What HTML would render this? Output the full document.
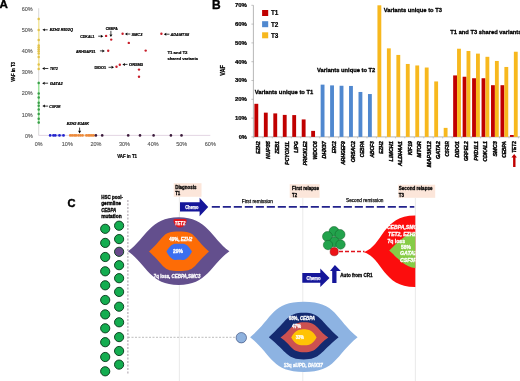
<!DOCTYPE html>
<html><head><meta charset="utf-8"><style>
html,body{margin:0;padding:0;background:#fff;}
svg{display:block;font-family:"Liberation Sans", sans-serif;filter:blur(0.4px);}
</style></head><body>
<svg width="520" height="381" viewBox="0 0 520 381">
<defs><clipPath id="c3"><rect x="0" y="0" width="415.4" height="381"/></clipPath></defs>
<rect width="520" height="381" fill="#fff"/>
<text x="-0.4" y="8.4" font-size="11.6" font-weight="bold" stroke="#000" stroke-width="0.35">A</text>
<line x1="38.7" y1="8.2" x2="38.7" y2="135.4" stroke="#c8c8c8" stroke-width="0.7"/>
<line x1="38.7" y1="135.4" x2="210.3" y2="135.4" stroke="#dccbdc" stroke-width="0.8"/>
<text x="24.9" y="137.8" font-size="5.6" fill="#555" stroke="#555" stroke-width="0.12" textLength="7.8" lengthAdjust="spacingAndGlyphs">0%</text>
<text x="34.8" y="145.8" font-size="5.6" fill="#555" stroke="#555" stroke-width="0.12" textLength="7.8" lengthAdjust="spacingAndGlyphs">0%</text>
<text x="21.7" y="116.6" font-size="5.6" fill="#555" stroke="#555" stroke-width="0.12" textLength="11.0" lengthAdjust="spacingAndGlyphs">10%</text>
<text x="61.8" y="145.8" font-size="5.6" fill="#555" stroke="#555" stroke-width="0.12" textLength="11.0" lengthAdjust="spacingAndGlyphs">10%</text>
<text x="21.7" y="95.4" font-size="5.6" fill="#555" stroke="#555" stroke-width="0.12" textLength="11.0" lengthAdjust="spacingAndGlyphs">20%</text>
<text x="90.4" y="145.8" font-size="5.6" fill="#555" stroke="#555" stroke-width="0.12" textLength="11.0" lengthAdjust="spacingAndGlyphs">20%</text>
<text x="21.7" y="74.2" font-size="5.6" fill="#555" stroke="#555" stroke-width="0.12" textLength="11.0" lengthAdjust="spacingAndGlyphs">30%</text>
<text x="119.0" y="145.8" font-size="5.6" fill="#555" stroke="#555" stroke-width="0.12" textLength="11.0" lengthAdjust="spacingAndGlyphs">30%</text>
<text x="21.7" y="53.0" font-size="5.6" fill="#555" stroke="#555" stroke-width="0.12" textLength="11.0" lengthAdjust="spacingAndGlyphs">40%</text>
<text x="147.6" y="145.8" font-size="5.6" fill="#555" stroke="#555" stroke-width="0.12" textLength="11.0" lengthAdjust="spacingAndGlyphs">40%</text>
<text x="21.7" y="31.8" font-size="5.6" fill="#555" stroke="#555" stroke-width="0.12" textLength="11.0" lengthAdjust="spacingAndGlyphs">50%</text>
<text x="176.2" y="145.8" font-size="5.6" fill="#555" stroke="#555" stroke-width="0.12" textLength="11.0" lengthAdjust="spacingAndGlyphs">50%</text>
<text x="21.7" y="10.6" font-size="5.6" fill="#555" stroke="#555" stroke-width="0.12" textLength="11.0" lengthAdjust="spacingAndGlyphs">60%</text>
<text x="204.8" y="145.8" font-size="5.6" fill="#555" stroke="#555" stroke-width="0.12" textLength="11.0" lengthAdjust="spacingAndGlyphs">60%</text>
<text x="117.3" y="157.9" font-size="4.6" font-weight="bold" fill="#000" stroke="#000" stroke-width="0.22" textLength="19.7" lengthAdjust="spacingAndGlyphs">VAF in T1</text>
<g transform="translate(14.5,71.9) rotate(-90)"><text x="-9.9" y="0" font-size="4.6" font-weight="bold" stroke="#000" stroke-width="0.22" textLength="19.8" lengthAdjust="spacingAndGlyphs">VAF in T3</text></g>
<line x1="38.7" y1="17.5" x2="38.7" y2="70" stroke="#f3e7a0" stroke-width="1.5"/>
<line x1="38.7" y1="81.5" x2="38.7" y2="124" stroke="#9ae49a" stroke-width="1.5"/>
<line x1="49" y1="135.4" x2="64.8" y2="135.4" stroke="#9ea0f0" stroke-width="1.6"/>
<line x1="69" y1="135.4" x2="95" y2="135.4" stroke="#f6c89a" stroke-width="1.6"/>
<circle cx="38.7" cy="18.9" r="1.25" fill="#e2c24a"/>
<circle cx="38.7" cy="30.1" r="1.25" fill="#e2c24a"/>
<circle cx="38.7" cy="39.9" r="1.25" fill="#e2c24a"/>
<circle cx="38.7" cy="45.5" r="1.25" fill="#e2c24a"/>
<circle cx="38.7" cy="47.3" r="1.25" fill="#e2c24a"/>
<circle cx="38.7" cy="49.3" r="1.25" fill="#e2c24a"/>
<circle cx="38.7" cy="51.3" r="1.25" fill="#e2c24a"/>
<circle cx="38.7" cy="53.6" r="1.25" fill="#e2c24a"/>
<circle cx="38.7" cy="56.9" r="1.25" fill="#e2c24a"/>
<circle cx="38.7" cy="64.6" r="1.25" fill="#e2c24a"/>
<circle cx="38.7" cy="68.9" r="1.25" fill="#e2c24a"/>
<circle cx="38.7" cy="82.9" r="1.25" fill="#3a9e4a"/>
<circle cx="38.7" cy="93.5" r="1.25" fill="#3a9e4a"/>
<circle cx="38.7" cy="97.6" r="1.25" fill="#3a9e4a"/>
<circle cx="38.7" cy="102.7" r="1.25" fill="#3a9e4a"/>
<circle cx="38.7" cy="105.8" r="1.25" fill="#3a9e4a"/>
<circle cx="38.7" cy="109.5" r="1.25" fill="#3a9e4a"/>
<circle cx="38.7" cy="114.1" r="1.25" fill="#3a9e4a"/>
<circle cx="38.7" cy="118.7" r="1.25" fill="#3a9e4a"/>
<circle cx="38.7" cy="122.4" r="1.25" fill="#3a9e4a"/>
<circle cx="50.1" cy="135.4" r="1.3" fill="#2424cc"/>
<circle cx="53.5" cy="135.4" r="1.3" fill="#2424cc"/>
<circle cx="55.3" cy="135.4" r="1.3" fill="#2424cc"/>
<circle cx="59.5" cy="135.4" r="1.3" fill="#2424cc"/>
<circle cx="63.5" cy="135.4" r="1.3" fill="#2424cc"/>
<circle cx="70.3" cy="135.4" r="1.3" fill="#ec8a3c"/>
<circle cx="72.2" cy="135.4" r="1.3" fill="#ec8a3c"/>
<circle cx="74.3" cy="135.4" r="1.3" fill="#ec8a3c"/>
<circle cx="76.0" cy="135.4" r="1.3" fill="#ec8a3c"/>
<circle cx="78.4" cy="135.4" r="1.3" fill="#ec8a3c"/>
<circle cx="80.4" cy="135.4" r="1.3" fill="#ec8a3c"/>
<circle cx="82.5" cy="135.4" r="1.3" fill="#ec8a3c"/>
<circle cx="86.4" cy="135.4" r="1.3" fill="#ec8a3c"/>
<circle cx="88.3" cy="135.4" r="1.3" fill="#ec8a3c"/>
<circle cx="89.9" cy="135.4" r="1.3" fill="#ec8a3c"/>
<circle cx="91.8" cy="135.4" r="1.3" fill="#ec8a3c"/>
<circle cx="93.5" cy="135.4" r="1.3" fill="#ec8a3c"/>
<circle cx="95.9" cy="135.4" r="1.3" fill="#3c1c3c"/>
<circle cx="102.2" cy="135.4" r="1.3" fill="#3c1c3c"/>
<circle cx="128.2" cy="135.4" r="1.3" fill="#3c1c3c"/>
<circle cx="140.0" cy="135.4" r="1.3" fill="#3c1c3c"/>
<circle cx="153.6" cy="135.4" r="1.3" fill="#3c1c3c"/>
<circle cx="170.9" cy="135.4" r="1.3" fill="#3c1c3c"/>
<circle cx="181.5" cy="135.4" r="1.3" fill="#3c1c3c"/>
<circle cx="106.1" cy="35.9" r="1.2" fill="#c81e2a"/>
<circle cx="111.2" cy="39.6" r="1.2" fill="#c81e2a"/>
<circle cx="122.6" cy="33.8" r="1.2" fill="#c81e2a"/>
<circle cx="128.8" cy="42.9" r="1.2" fill="#c81e2a"/>
<circle cx="161.4" cy="33.8" r="1.2" fill="#c81e2a"/>
<circle cx="145.7" cy="50.6" r="1.2" fill="#c81e2a"/>
<circle cx="108.2" cy="50.7" r="1.2" fill="#c81e2a"/>
<circle cx="116.5" cy="66.7" r="1.2" fill="#c81e2a"/>
<circle cx="119.8" cy="64.8" r="1.2" fill="#c81e2a"/>
<circle cx="139.0" cy="69.6" r="1.2" fill="#c81e2a"/>
<circle cx="139.0" cy="76.8" r="1.2" fill="#c81e2a"/>
<line x1="47.7" y1="29.8" x2="44.9" y2="29.8" stroke="#000" stroke-width="0.75"/>
<path d="M42.4,29.8 L44.9,28.4 L44.9,31.2Z" fill="#000"/>
<text x="49.7" y="31.4" font-size="4.1" font-weight="bold" font-style="italic" fill="#000" stroke="#000" stroke-width="0.22" textLength="23.2" lengthAdjust="spacingAndGlyphs">EZH2 R502Q</text>
<line x1="48.3" y1="68.5" x2="44.7" y2="68.5" stroke="#000" stroke-width="0.75"/>
<path d="M42.2,68.5 L44.7,67.0 L44.7,70.0Z" fill="#000"/>
<text x="50.1" y="70.4" font-size="4.1" font-weight="bold" font-style="italic" fill="#000" stroke="#000" stroke-width="0.22" textLength="7.7" lengthAdjust="spacingAndGlyphs">TET2</text>
<line x1="48.1" y1="83.2" x2="44.7" y2="83.2" stroke="#000" stroke-width="0.75"/>
<path d="M42.2,83.2 L44.7,81.8 L44.7,84.7Z" fill="#000"/>
<text x="50.1" y="84.9" font-size="4.1" font-weight="bold" font-style="italic" fill="#000" stroke="#000" stroke-width="0.22" textLength="12.5" lengthAdjust="spacingAndGlyphs">GATA2</text>
<line x1="48.1" y1="106.1" x2="44.9" y2="106.1" stroke="#000" stroke-width="0.75"/>
<path d="M42.4,106.1 L44.9,104.6 L44.9,107.5Z" fill="#000"/>
<text x="49.3" y="107.9" font-size="4.1" font-weight="bold" font-style="italic" fill="#000" stroke="#000" stroke-width="0.22" textLength="11.1" lengthAdjust="spacingAndGlyphs">CSF3R</text>
<text x="66.8" y="124.5" font-size="4.1" font-weight="bold" font-style="italic" fill="#000" stroke="#000" stroke-width="0.22" textLength="22.2" lengthAdjust="spacingAndGlyphs">EZH2 E148K</text>
<line x1="79.6" y1="127.6" x2="79.6" y2="130.8" stroke="#000" stroke-width="0.75"/>
<path d="M79.6,133.4 L78.1,130.8 L81.1,130.8Z" fill="#000"/>
<text x="105.8" y="29.7" font-size="4.1" font-weight="bold" fill="#000" stroke="#000" stroke-width="0.22" textLength="11.9" lengthAdjust="spacingAndGlyphs">CEBPA</text>
<line x1="110.9" y1="30.8" x2="110.9" y2="34.5" stroke="#000" stroke-width="0.75"/>
<path d="M110.9,37.0 L109.5,34.5 L112.4,34.5Z" fill="#000"/>
<text x="80.2" y="37.9" font-size="4.1" font-weight="bold" fill="#000" stroke="#000" stroke-width="0.22" textLength="14.4" lengthAdjust="spacingAndGlyphs">CDKAL1</text>
<line x1="98.2" y1="36.2" x2="100.8" y2="36.2" stroke="#000" stroke-width="0.75"/>
<path d="M103.3,36.2 L100.8,37.7 L100.8,34.8Z" fill="#000"/>
<text x="76.0" y="52.8" font-size="4.1" font-weight="bold" fill="#000" stroke="#000" stroke-width="0.22" textLength="19.6" lengthAdjust="spacingAndGlyphs">ARHGAP21</text>
<line x1="99.9" y1="50.9" x2="102.3" y2="50.9" stroke="#000" stroke-width="0.75"/>
<path d="M104.8,50.9 L102.3,52.4 L102.3,49.4Z" fill="#000"/>
<text x="94.4" y="69.0" font-size="4.1" font-weight="bold" fill="#000" stroke="#000" stroke-width="0.22" textLength="11.7" lengthAdjust="spacingAndGlyphs">DIDO1</text>
<line x1="108.5" y1="67.3" x2="111.5" y2="67.3" stroke="#000" stroke-width="0.75"/>
<path d="M114.0,67.3 L111.5,68.8 L111.5,65.8Z" fill="#000"/>
<line x1="127.5" y1="64.4" x2="124.9" y2="64.4" stroke="#000" stroke-width="0.75"/>
<path d="M122.4,64.4 L124.9,63.0 L124.9,65.9Z" fill="#000"/>
<text x="129.0" y="66.1" font-size="4.1" font-weight="bold" fill="#000" stroke="#000" stroke-width="0.22" textLength="14.1" lengthAdjust="spacingAndGlyphs">OR5M3</text>
<line x1="130.3" y1="34.0" x2="127.4" y2="34.0" stroke="#000" stroke-width="0.75"/>
<path d="M124.9,34.0 L127.4,32.5 L127.4,35.5Z" fill="#000"/>
<text x="131.5" y="35.5" font-size="4.1" font-weight="bold" font-style="italic" fill="#000" stroke="#000" stroke-width="0.22" textLength="10.8" lengthAdjust="spacingAndGlyphs">SMC3</text>
<line x1="169.5" y1="34.2" x2="166.3" y2="34.2" stroke="#000" stroke-width="0.75"/>
<path d="M163.8,34.2 L166.3,32.8 L166.3,35.7Z" fill="#000"/>
<text x="170.6" y="36.0" font-size="4.1" font-weight="bold" font-style="italic" fill="#000" stroke="#000" stroke-width="0.22" textLength="18.5" lengthAdjust="spacingAndGlyphs">ADAMTS8</text>
<text x="167.4" y="53.7" font-size="4.4" font-weight="bold" fill="#000" stroke="#000" stroke-width="0.22" textLength="20.1" lengthAdjust="spacingAndGlyphs">T1 and T3</text>
<text x="167.4" y="59.5" font-size="4.4" font-weight="bold" fill="#000" stroke="#000" stroke-width="0.22" textLength="30.7" lengthAdjust="spacingAndGlyphs">shared variants</text>
<text x="212.0" y="8.7" font-size="12" font-weight="bold" stroke="#000" stroke-width="0.35">B</text>
<line x1="253.4" y1="5.3" x2="253.4" y2="136.9" stroke="#9a9a9a" stroke-width="0.7"/>
<line x1="253.4" y1="136.9" x2="520" y2="136.9" stroke="#9a9a9a" stroke-width="0.7"/>
<text x="238.7" y="138.8" font-size="5.3" font-weight="bold" fill="#000" stroke="#000" stroke-width="0.22" textLength="8.2" lengthAdjust="spacingAndGlyphs">0%</text>
<line x1="251.4" y1="136.9" x2="253.4" y2="136.9" stroke="#9a9a9a" stroke-width="0.6"/>
<text x="234.9" y="120.0" font-size="5.3" font-weight="bold" fill="#000" stroke="#000" stroke-width="0.22" textLength="12.0" lengthAdjust="spacingAndGlyphs">10%</text>
<line x1="251.4" y1="118.1" x2="253.4" y2="118.1" stroke="#9a9a9a" stroke-width="0.6"/>
<text x="234.9" y="101.2" font-size="5.3" font-weight="bold" fill="#000" stroke="#000" stroke-width="0.22" textLength="12.0" lengthAdjust="spacingAndGlyphs">20%</text>
<line x1="251.4" y1="99.3" x2="253.4" y2="99.3" stroke="#9a9a9a" stroke-width="0.6"/>
<text x="234.9" y="82.4" font-size="5.3" font-weight="bold" fill="#000" stroke="#000" stroke-width="0.22" textLength="12.0" lengthAdjust="spacingAndGlyphs">30%</text>
<line x1="251.4" y1="80.5" x2="253.4" y2="80.5" stroke="#9a9a9a" stroke-width="0.6"/>
<text x="234.9" y="63.6" font-size="5.3" font-weight="bold" fill="#000" stroke="#000" stroke-width="0.22" textLength="12.0" lengthAdjust="spacingAndGlyphs">40%</text>
<line x1="251.4" y1="61.7" x2="253.4" y2="61.7" stroke="#9a9a9a" stroke-width="0.6"/>
<text x="234.9" y="44.8" font-size="5.3" font-weight="bold" fill="#000" stroke="#000" stroke-width="0.22" textLength="12.0" lengthAdjust="spacingAndGlyphs">50%</text>
<line x1="251.4" y1="42.9" x2="253.4" y2="42.9" stroke="#9a9a9a" stroke-width="0.6"/>
<text x="234.9" y="26.0" font-size="5.3" font-weight="bold" fill="#000" stroke="#000" stroke-width="0.22" textLength="12.0" lengthAdjust="spacingAndGlyphs">60%</text>
<line x1="251.4" y1="24.1" x2="253.4" y2="24.1" stroke="#9a9a9a" stroke-width="0.6"/>
<text x="234.9" y="7.2" font-size="5.3" font-weight="bold" fill="#000" stroke="#000" stroke-width="0.22" textLength="12.0" lengthAdjust="spacingAndGlyphs">70%</text>
<line x1="251.4" y1="5.3" x2="253.4" y2="5.3" stroke="#9a9a9a" stroke-width="0.6"/>
<g transform="translate(224.9,70.5) rotate(-90)"><text x="-5.3" y="0" font-size="6.3" font-weight="bold" stroke="#000" stroke-width="0.25" textLength="10.6" lengthAdjust="spacingAndGlyphs">VAF</text></g>
<rect x="262.1" y="10.0" width="6.1" height="6" fill="#c00000"/>
<text x="270.9" y="15.3" font-size="6.3" font-weight="bold" fill="#000" stroke="#000" stroke-width="0.22" textLength="7.4" lengthAdjust="spacingAndGlyphs">T1</text>
<rect x="262.1" y="21.2" width="6.1" height="6" fill="#5088cf"/>
<text x="270.9" y="26.5" font-size="6.3" font-weight="bold" fill="#000" stroke="#000" stroke-width="0.22" textLength="7.4" lengthAdjust="spacingAndGlyphs">T2</text>
<rect x="262.1" y="32.3" width="6.1" height="6" fill="#f7b81e"/>
<text x="270.9" y="37.6" font-size="6.3" font-weight="bold" fill="#000" stroke="#000" stroke-width="0.22" textLength="7.4" lengthAdjust="spacingAndGlyphs">T3</text>
<rect x="254.40" y="103.81" width="3.85" height="33.09" fill="#c00000"/>
<g transform="translate(260.1,141.2) rotate(-90)"><text x="-12.5" y="0" font-size="5.0" font-weight="bold" font-style="italic" stroke="#000" stroke-width="0.38" textLength="12.5" lengthAdjust="spacingAndGlyphs">EZH2</text></g>
<rect x="263.87" y="112.65" width="3.85" height="24.25" fill="#c00000"/>
<g transform="translate(269.6,141.2) rotate(-90)"><text x="-17.8" y="0" font-size="5.0" font-weight="bold" font-style="italic" stroke="#000" stroke-width="0.38" textLength="17.8" lengthAdjust="spacingAndGlyphs">NUP35</text></g>
<rect x="273.33" y="113.40" width="3.85" height="23.50" fill="#c00000"/>
<g transform="translate(279.0,141.2) rotate(-90)"><text x="-12.5" y="0" font-size="5.0" font-weight="bold" font-style="italic" stroke="#000" stroke-width="0.38" textLength="12.5" lengthAdjust="spacingAndGlyphs">ZEB1</text></g>
<rect x="282.80" y="114.90" width="3.85" height="22.00" fill="#c00000"/>
<g transform="translate(288.5,141.2) rotate(-90)"><text x="-23.5" y="0" font-size="5.0" font-weight="bold" font-style="italic" stroke="#000" stroke-width="0.38" textLength="23.5" lengthAdjust="spacingAndGlyphs">PCYOX1L</text></g>
<rect x="292.26" y="115.09" width="3.85" height="21.81" fill="#c00000"/>
<g transform="translate(298.0,141.2) rotate(-90)"><text x="-11.5" y="0" font-size="5.0" font-weight="bold" font-style="italic" stroke="#000" stroke-width="0.38" textLength="11.5" lengthAdjust="spacingAndGlyphs">LIPG</text></g>
<rect x="301.73" y="119.42" width="3.85" height="17.48" fill="#c00000"/>
<g transform="translate(307.4,141.2) rotate(-90)"><text x="-24.0" y="0" font-size="5.0" font-weight="bold" font-style="italic" stroke="#000" stroke-width="0.38" textLength="24" lengthAdjust="spacingAndGlyphs">PRICKLE2</text></g>
<rect x="311.19" y="130.88" width="3.85" height="6.02" fill="#c00000"/>
<g transform="translate(316.9,141.2) rotate(-90)"><text x="-18.3" y="0" font-size="5.0" font-weight="bold" font-style="italic" stroke="#000" stroke-width="0.38" textLength="18.3" lengthAdjust="spacingAndGlyphs">WDCC6</text></g>
<rect x="320.65" y="84.64" width="3.85" height="52.26" fill="#5088cf"/>
<g transform="translate(326.4,141.2) rotate(-90)"><text x="-17.3" y="0" font-size="5.0" font-weight="bold" font-style="italic" stroke="#000" stroke-width="0.38" textLength="17.3" lengthAdjust="spacingAndGlyphs">DHX37</text></g>
<rect x="330.12" y="85.39" width="3.85" height="51.51" fill="#5088cf"/>
<g transform="translate(335.8,141.2) rotate(-90)"><text x="-12.0" y="0" font-size="5.0" font-weight="bold" font-style="italic" stroke="#000" stroke-width="0.38" textLength="12" lengthAdjust="spacingAndGlyphs">ERC2</text></g>
<rect x="339.59" y="85.76" width="3.85" height="51.14" fill="#5088cf"/>
<g transform="translate(345.3,141.2) rotate(-90)"><text x="-23.5" y="0" font-size="5.0" font-weight="bold" font-style="italic" stroke="#000" stroke-width="0.38" textLength="23.5" lengthAdjust="spacingAndGlyphs">ARHGEF9</text></g>
<rect x="349.05" y="85.95" width="3.85" height="50.95" fill="#5088cf"/>
<g transform="translate(354.8,141.2) rotate(-90)"><text x="-21.0" y="0" font-size="5.0" font-weight="bold" font-style="italic" stroke="#000" stroke-width="0.38" textLength="21" lengthAdjust="spacingAndGlyphs">OR5AC2</text></g>
<rect x="358.51" y="91.97" width="3.85" height="44.93" fill="#5088cf"/>
<g transform="translate(364.2,141.2) rotate(-90)"><text x="-16.0" y="0" font-size="5.0" font-weight="bold" font-style="italic" stroke="#000" stroke-width="0.38" textLength="16" lengthAdjust="spacingAndGlyphs">CEBPA</text></g>
<rect x="367.98" y="94.04" width="3.85" height="42.86" fill="#5088cf"/>
<g transform="translate(373.7,141.2) rotate(-90)"><text x="-16.3" y="0" font-size="5.0" font-weight="bold" font-style="italic" stroke="#000" stroke-width="0.38" textLength="16.3" lengthAdjust="spacingAndGlyphs">ABCF3</text></g>
<rect x="377.44" y="5.30" width="3.85" height="131.60" fill="#f7b81e"/>
<g transform="translate(383.1,141.2) rotate(-90)"><text x="-12.5" y="0" font-size="5.0" font-weight="bold" font-style="italic" stroke="#000" stroke-width="0.38" textLength="12.5" lengthAdjust="spacingAndGlyphs">EZH2</text></g>
<rect x="386.91" y="48.35" width="3.85" height="88.55" fill="#f7b81e"/>
<g transform="translate(392.6,141.2) rotate(-90)"><text x="-20.2" y="0" font-size="5.0" font-weight="bold" font-style="italic" stroke="#000" stroke-width="0.38" textLength="20.2" lengthAdjust="spacingAndGlyphs">LIMCH1</text></g>
<rect x="396.38" y="54.93" width="3.85" height="81.97" fill="#f7b81e"/>
<g transform="translate(402.1,141.2) rotate(-90)"><text x="-24.7" y="0" font-size="5.0" font-weight="bold" font-style="italic" stroke="#000" stroke-width="0.38" textLength="24.7" lengthAdjust="spacingAndGlyphs">ALDH4A1</text></g>
<rect x="405.84" y="63.96" width="3.85" height="72.94" fill="#f7b81e"/>
<g transform="translate(411.5,141.2) rotate(-90)"><text x="-13.9" y="0" font-size="5.0" font-weight="bold" font-style="italic" stroke="#000" stroke-width="0.38" textLength="13.9" lengthAdjust="spacingAndGlyphs">KIF19</text></g>
<rect x="415.31" y="65.46" width="3.85" height="71.44" fill="#f7b81e"/>
<g transform="translate(421.0,141.2) rotate(-90)"><text x="-16.3" y="0" font-size="5.0" font-weight="bold" font-style="italic" stroke="#000" stroke-width="0.38" textLength="16.3" lengthAdjust="spacingAndGlyphs">MTOR</text></g>
<rect x="424.77" y="67.53" width="3.85" height="69.37" fill="#f7b81e"/>
<g transform="translate(430.5,141.2) rotate(-90)"><text x="-26.0" y="0" font-size="5.0" font-weight="bold" font-style="italic" stroke="#000" stroke-width="0.38" textLength="26" lengthAdjust="spacingAndGlyphs">MAP3K12</text></g>
<rect x="434.24" y="81.44" width="3.85" height="55.46" fill="#f7b81e"/>
<g transform="translate(439.9,141.2) rotate(-90)"><text x="-17.8" y="0" font-size="5.0" font-weight="bold" font-style="italic" stroke="#000" stroke-width="0.38" textLength="17.8" lengthAdjust="spacingAndGlyphs">GATA2</text></g>
<rect x="443.70" y="127.88" width="3.85" height="9.02" fill="#f7b81e"/>
<g transform="translate(449.4,141.2) rotate(-90)"><text x="-15.4" y="0" font-size="5.0" font-weight="bold" font-style="italic" stroke="#000" stroke-width="0.38" textLength="15.4" lengthAdjust="spacingAndGlyphs">CSF3R</text></g>
<rect x="453.16" y="75.42" width="3.85" height="61.48" fill="#c00000"/>
<rect x="457.06" y="48.73" width="3.85" height="88.17" fill="#f7b81e"/>
<g transform="translate(458.9,141.2) rotate(-90)"><text x="-16.3" y="0" font-size="5.0" font-weight="bold" font-style="italic" stroke="#000" stroke-width="0.38" textLength="16.3" lengthAdjust="spacingAndGlyphs">DIDO1</text></g>
<rect x="462.63" y="76.74" width="3.85" height="60.16" fill="#c00000"/>
<rect x="466.53" y="50.98" width="3.85" height="85.92" fill="#f7b81e"/>
<g transform="translate(468.3,141.2) rotate(-90)"><text x="-19.9" y="0" font-size="5.0" font-weight="bold" font-style="italic" stroke="#000" stroke-width="0.38" textLength="19.9" lengthAdjust="spacingAndGlyphs">GRPEL2</text></g>
<rect x="472.10" y="78.24" width="3.85" height="58.66" fill="#c00000"/>
<rect x="476.00" y="53.62" width="3.85" height="83.28" fill="#f7b81e"/>
<g transform="translate(477.8,141.2) rotate(-90)"><text x="-19.2" y="0" font-size="5.0" font-weight="bold" font-style="italic" stroke="#000" stroke-width="0.38" textLength="19.2" lengthAdjust="spacingAndGlyphs">PKD1L1</text></g>
<rect x="481.56" y="78.24" width="3.85" height="58.66" fill="#c00000"/>
<rect x="485.46" y="56.81" width="3.85" height="80.09" fill="#f7b81e"/>
<g transform="translate(487.3,141.2) rotate(-90)"><text x="-20.2" y="0" font-size="5.0" font-weight="bold" font-style="italic" stroke="#000" stroke-width="0.38" textLength="20.2" lengthAdjust="spacingAndGlyphs">CDKAL1</text></g>
<rect x="491.02" y="85.20" width="3.85" height="51.70" fill="#c00000"/>
<rect x="494.92" y="60.95" width="3.85" height="75.95" fill="#f7b81e"/>
<g transform="translate(496.7,141.2) rotate(-90)"><text x="-15.4" y="0" font-size="5.0" font-weight="bold" font-style="italic" stroke="#000" stroke-width="0.38" textLength="15.4" lengthAdjust="spacingAndGlyphs">SMC3</text></g>
<rect x="500.49" y="85.20" width="3.85" height="51.70" fill="#c00000"/>
<rect x="504.39" y="66.96" width="3.85" height="69.94" fill="#f7b81e"/>
<g transform="translate(506.2,141.2) rotate(-90)"><text x="-16.5" y="0" font-size="5.0" font-weight="bold" font-style="italic" stroke="#000" stroke-width="0.38" textLength="16.5" lengthAdjust="spacingAndGlyphs">CEBPA</text></g>
<rect x="509.96" y="135.02" width="3.85" height="1.88" fill="#c00000"/>
<rect x="513.86" y="51.74" width="3.85" height="85.16" fill="#f7b81e"/>
<g transform="translate(515.7,141.2) rotate(-90)"><text x="-11.6" y="0" font-size="5.0" font-weight="bold" font-style="italic" stroke="#000" stroke-width="0.38" textLength="11.6" lengthAdjust="spacingAndGlyphs">TET2</text></g>
<line x1="253.4" y1="136.9" x2="253.4" y2="138.4" stroke="#9a9a9a" stroke-width="0.5"/>
<line x1="262.9" y1="136.9" x2="262.9" y2="138.4" stroke="#9a9a9a" stroke-width="0.5"/>
<line x1="272.3" y1="136.9" x2="272.3" y2="138.4" stroke="#9a9a9a" stroke-width="0.5"/>
<line x1="281.8" y1="136.9" x2="281.8" y2="138.4" stroke="#9a9a9a" stroke-width="0.5"/>
<line x1="291.3" y1="136.9" x2="291.3" y2="138.4" stroke="#9a9a9a" stroke-width="0.5"/>
<line x1="300.7" y1="136.9" x2="300.7" y2="138.4" stroke="#9a9a9a" stroke-width="0.5"/>
<line x1="310.2" y1="136.9" x2="310.2" y2="138.4" stroke="#9a9a9a" stroke-width="0.5"/>
<line x1="319.7" y1="136.9" x2="319.7" y2="138.4" stroke="#9a9a9a" stroke-width="0.5"/>
<line x1="329.1" y1="136.9" x2="329.1" y2="138.4" stroke="#9a9a9a" stroke-width="0.5"/>
<line x1="338.6" y1="136.9" x2="338.6" y2="138.4" stroke="#9a9a9a" stroke-width="0.5"/>
<line x1="348.1" y1="136.9" x2="348.1" y2="138.4" stroke="#9a9a9a" stroke-width="0.5"/>
<line x1="357.5" y1="136.9" x2="357.5" y2="138.4" stroke="#9a9a9a" stroke-width="0.5"/>
<line x1="367.0" y1="136.9" x2="367.0" y2="138.4" stroke="#9a9a9a" stroke-width="0.5"/>
<line x1="376.4" y1="136.9" x2="376.4" y2="138.4" stroke="#9a9a9a" stroke-width="0.5"/>
<line x1="385.9" y1="136.9" x2="385.9" y2="138.4" stroke="#9a9a9a" stroke-width="0.5"/>
<line x1="395.4" y1="136.9" x2="395.4" y2="138.4" stroke="#9a9a9a" stroke-width="0.5"/>
<line x1="404.8" y1="136.9" x2="404.8" y2="138.4" stroke="#9a9a9a" stroke-width="0.5"/>
<line x1="414.3" y1="136.9" x2="414.3" y2="138.4" stroke="#9a9a9a" stroke-width="0.5"/>
<line x1="423.8" y1="136.9" x2="423.8" y2="138.4" stroke="#9a9a9a" stroke-width="0.5"/>
<line x1="433.2" y1="136.9" x2="433.2" y2="138.4" stroke="#9a9a9a" stroke-width="0.5"/>
<line x1="442.7" y1="136.9" x2="442.7" y2="138.4" stroke="#9a9a9a" stroke-width="0.5"/>
<line x1="452.2" y1="136.9" x2="452.2" y2="138.4" stroke="#9a9a9a" stroke-width="0.5"/>
<line x1="461.6" y1="136.9" x2="461.6" y2="138.4" stroke="#9a9a9a" stroke-width="0.5"/>
<line x1="471.1" y1="136.9" x2="471.1" y2="138.4" stroke="#9a9a9a" stroke-width="0.5"/>
<line x1="480.6" y1="136.9" x2="480.6" y2="138.4" stroke="#9a9a9a" stroke-width="0.5"/>
<line x1="490.0" y1="136.9" x2="490.0" y2="138.4" stroke="#9a9a9a" stroke-width="0.5"/>
<line x1="499.5" y1="136.9" x2="499.5" y2="138.4" stroke="#9a9a9a" stroke-width="0.5"/>
<line x1="509.0" y1="136.9" x2="509.0" y2="138.4" stroke="#9a9a9a" stroke-width="0.5"/>
<line x1="518.4" y1="136.9" x2="518.4" y2="138.4" stroke="#9a9a9a" stroke-width="0.5"/>
<path d="M514.2,154 L516.9,157.5 L515.5,157.5 L515.5,166.9 L513.1,166.9 L513.1,157.5 L511.4,157.5Z" fill="#c00000"/>
<text x="254.7" y="93.8" font-size="6.2" font-weight="bold" fill="#000" stroke="#000" stroke-width="0.3" textLength="58.6" lengthAdjust="spacingAndGlyphs">Variants unique to T1</text>
<text x="317.1" y="72.1" font-size="6.2" font-weight="bold" fill="#000" stroke="#000" stroke-width="0.3" textLength="58.2" lengthAdjust="spacingAndGlyphs">Variants unique to T2</text>
<text x="383.7" y="11.8" font-size="6.2" font-weight="bold" fill="#000" stroke="#000" stroke-width="0.3" textLength="58.2" lengthAdjust="spacingAndGlyphs">Variants unique to T3</text>
<text x="450.3" y="33.6" font-size="6.2" font-weight="bold" fill="#000" stroke="#000" stroke-width="0.3" textLength="71.2" lengthAdjust="spacingAndGlyphs">T1 and T3 shared variants</text>
<text x="67.4" y="207.2" font-size="11.1" font-weight="bold" stroke="#000" stroke-width="0.45">C</text>
<text x="101.2" y="198.7" font-size="5.0" font-weight="bold" fill="#000" stroke="#000" stroke-width="0.3" textLength="21.7" lengthAdjust="spacingAndGlyphs">HSC pool-</text>
<text x="101.2" y="205.4" font-size="5.0" font-weight="bold" stroke="#000" stroke-width="0.3" textLength="19.8" lengthAdjust="spacingAndGlyphs">germline</text>
<text x="101.2" y="211.9" font-size="5.0" font-weight="bold" font-style="italic" fill="#000" stroke="#000" stroke-width="0.3" textLength="15.0" lengthAdjust="spacingAndGlyphs">CEBPA</text>
<text x="101.2" y="218.4" font-size="5.0" font-weight="bold" stroke="#000" stroke-width="0.3" textLength="20.4" lengthAdjust="spacingAndGlyphs">mutation</text>
<line x1="127.9" y1="200" x2="127.9" y2="375" stroke="#9c929c" stroke-width="0.9" stroke-dasharray="2,1.5"/>
<circle cx="105.2" cy="228.8" r="4.6" fill="#14ad50" stroke="#0c3d1e" stroke-width="0.95"/>
<circle cx="105.2" cy="242.9" r="4.6" fill="#14ad50" stroke="#0c3d1e" stroke-width="0.95"/>
<circle cx="105.2" cy="257" r="4.6" fill="#14ad50" stroke="#0c3d1e" stroke-width="0.95"/>
<circle cx="105.2" cy="271.3" r="4.6" fill="#14ad50" stroke="#0c3d1e" stroke-width="0.95"/>
<circle cx="105.2" cy="285.3" r="4.6" fill="#14ad50" stroke="#0c3d1e" stroke-width="0.95"/>
<circle cx="105.2" cy="300" r="4.6" fill="#14ad50" stroke="#0c3d1e" stroke-width="0.95"/>
<circle cx="105.2" cy="314.4" r="4.6" fill="#14ad50" stroke="#0c3d1e" stroke-width="0.95"/>
<circle cx="105.2" cy="328.3" r="4.6" fill="#14ad50" stroke="#0c3d1e" stroke-width="0.95"/>
<circle cx="105.2" cy="342.2" r="4.6" fill="#14ad50" stroke="#0c3d1e" stroke-width="0.95"/>
<circle cx="105.2" cy="357" r="4.6" fill="#14ad50" stroke="#0c3d1e" stroke-width="0.95"/>
<circle cx="105.2" cy="371.3" r="4.6" fill="#14ad50" stroke="#0c3d1e" stroke-width="0.95"/>
<circle cx="119.1" cy="225.7" r="4.6" fill="#14ad50" stroke="#0c3d1e" stroke-width="0.95"/>
<circle cx="119.1" cy="239.1" r="4.6" fill="#14ad50" stroke="#0c3d1e" stroke-width="0.95"/>
<circle cx="119.1" cy="251.8" r="4.6" fill="#67498a" stroke="#0c3d1e" stroke-width="0.95"/>
<circle cx="119.1" cy="265.2" r="4.6" fill="#14ad50" stroke="#0c3d1e" stroke-width="0.95"/>
<circle cx="119.1" cy="278.2" r="4.6" fill="#14ad50" stroke="#0c3d1e" stroke-width="0.95"/>
<circle cx="119.1" cy="291.9" r="4.6" fill="#14ad50" stroke="#0c3d1e" stroke-width="0.95"/>
<circle cx="119.1" cy="306.7" r="4.6" fill="#14ad50" stroke="#0c3d1e" stroke-width="0.95"/>
<circle cx="119.1" cy="322.3" r="4.6" fill="#14ad50" stroke="#0c3d1e" stroke-width="0.95"/>
<circle cx="119.1" cy="337.1" r="4.6" fill="#14ad50" stroke="#0c3d1e" stroke-width="0.95"/>
<circle cx="119.1" cy="351" r="4.6" fill="#14ad50" stroke="#0c3d1e" stroke-width="0.95"/>
<circle cx="119.1" cy="364.6" r="4.6" fill="#14ad50" stroke="#0c3d1e" stroke-width="0.95"/>
<line x1="179.4" y1="197" x2="179.4" y2="381" stroke="#d8d8d8" stroke-width="0.55"/>
<line x1="302.8" y1="198" x2="302.8" y2="381" stroke="#d8d8d8" stroke-width="0.55"/>
<line x1="415.4" y1="198" x2="415.4" y2="381" stroke="#d8d8d8" stroke-width="0.55"/>
<line x1="128" y1="337.3" x2="236" y2="337.3" stroke="#909090" stroke-width="0.6" stroke-dasharray="2,1.5"/>
<path d="M128.00,251.30 C146.76,237.70 149.80,217.30 178.70,217.30 C207.60,217.30 210.64,237.70 229.40,251.30 C210.64,264.74 207.60,284.90 178.70,284.90 C149.80,284.90 146.76,264.74 128.00,251.30Z" fill="#634f8d"/>
<path d="M149.00,251.60 C166.10,235.72 161.87,231.40 179.00,231.40 C196.13,231.40 191.90,235.72 209.00,251.60 C191.90,266.85 196.13,271.00 179.00,271.00 C161.87,271.00 166.10,266.85 149.00,251.60Z" fill="#fd6c06"/>
<path d="M166.40,251.50 C172.03,241.88 175.23,243.80 179.20,243.80 C183.17,243.80 186.37,241.88 192.00,251.50 C186.37,261.88 183.17,259.80 179.20,259.80 C175.23,259.80 172.03,261.88 166.40,251.50Z" fill="#3b6ff0"/>
<path d="M173.5,220.4 Q173.5,219.1 175.2,219.1 L184.9,219.1 Q186.6,219.1 186.6,220.6 C186.6,224.5 183,227.6 180,227.6 C177,227.6 173.5,224.5 173.5,220.4Z" fill="#e3141c"/>
<text x="174.8" y="224.7" font-size="4.6" font-weight="bold" font-style="italic" fill="#fff" stroke="#fff" stroke-width="0.25" textLength="10.5" lengthAdjust="spacingAndGlyphs">TET2</text>
<text x="169.3" y="240.6" font-size="5.0" font-weight="bold" fill="#fff" stroke="#fff" stroke-width="0.28" textLength="23.0" lengthAdjust="spacingAndGlyphs">49%, <tspan font-style="italic">EZH2</tspan></text>
<text x="172.9" y="253.3" font-size="5.4" font-weight="bold" fill="#fff" stroke="#fff" stroke-width="0.3" textLength="9.9" lengthAdjust="spacingAndGlyphs">29%</text>
<text x="153.8" y="278.2" font-size="5.1" font-weight="bold" fill="#fff" stroke="#fff" stroke-width="0.3" textLength="46.6" lengthAdjust="spacingAndGlyphs">7q loss, <tspan font-style="italic">CEBPA,SMC3</tspan></text>
<rect x="173.7" y="183.2" width="27.8" height="13.6" fill="#fce6da"/>
<text x="175.2" y="188.7" font-size="5.0" font-weight="bold" fill="#000" stroke="#000" stroke-width="0.28" textLength="21.2" lengthAdjust="spacingAndGlyphs">Diagnosis</text>
<text x="175.2" y="195.4" font-size="5.0" font-weight="bold" fill="#000" stroke="#000" stroke-width="0.28" textLength="5.1" lengthAdjust="spacingAndGlyphs">T1</text>
<rect x="289.7" y="184.2" width="29.9" height="13.6" fill="#fce6da"/>
<text x="292.1" y="190.2" font-size="5.0" font-weight="bold" fill="#000" stroke="#000" stroke-width="0.28" textLength="27.0" lengthAdjust="spacingAndGlyphs">First relapse</text>
<text x="292.1" y="196.9" font-size="5.0" font-weight="bold" fill="#000" stroke="#000" stroke-width="0.28" textLength="5.0" lengthAdjust="spacingAndGlyphs">T2</text>
<rect x="398.2" y="184.7" width="37.0" height="13.1" fill="#fce6da"/>
<text x="398.8" y="190.2" font-size="5.0" font-weight="bold" fill="#000" stroke="#000" stroke-width="0.28" textLength="33.7" lengthAdjust="spacingAndGlyphs">Second relapse</text>
<text x="398.8" y="196.9" font-size="5.0" font-weight="bold" fill="#000" stroke="#000" stroke-width="0.28" textLength="5.2" lengthAdjust="spacingAndGlyphs">T3</text>
<path d="M180.0,202.2 L199.6,202.2 L199.6,197.8 L208.2,206.9 L199.6,216.2 L199.6,211.6 L180.0,211.6Z" fill="#15169a"/>
<text x="185.2" y="208.7" font-size="4.9" font-weight="bold" fill="#fff" stroke="#fff" stroke-width="0.25" textLength="13.2" lengthAdjust="spacingAndGlyphs">Chemo</text>
<path d="M302.3,273.1 L320.3,273.1 L320.3,268.5 L329.5,278.0 L320.3,286.9 L320.3,282.8 L302.3,282.8Z" fill="#15169a"/>
<text x="306.5" y="279.7" font-size="4.9" font-weight="bold" fill="#fff" stroke="#fff" stroke-width="0.25" textLength="14.0" lengthAdjust="spacingAndGlyphs">Chemo</text>
<line x1="211.8" y1="206.9" x2="414.3" y2="206.9" stroke="#22228c" stroke-width="1.7" stroke-dasharray="8.1,2.9"/>
<text x="241.7" y="202.9" font-size="5.0" fill="#111" stroke="#111" stroke-width="0.25" textLength="31.3" lengthAdjust="spacingAndGlyphs">First remission</text>
<text x="346.0" y="202.4" font-size="5.0" fill="#111" stroke="#111" stroke-width="0.25" textLength="37.4" lengthAdjust="spacingAndGlyphs">Second remission</text>
<path d="M334.9,264.9 L340.8,271.1 L336.5,271.1 L336.5,283.1 L332.2,283.1 L332.2,271.1 L330.0,271.1Z" fill="#15169a"/>
<text x="340.3" y="277.2" font-size="4.9" font-weight="bold" fill="#000" stroke="#000" stroke-width="0.28" textLength="32.3" lengthAdjust="spacingAndGlyphs">Auto from CR1</text>
<circle cx="334" cy="231.5" r="5" fill="#22a34c" stroke="#145c28" stroke-width="0.5"/>
<circle cx="327.5" cy="236.5" r="5" fill="#22a34c" stroke="#145c28" stroke-width="0.5"/>
<circle cx="340" cy="234.5" r="5" fill="#22a34c" stroke="#145c28" stroke-width="0.5"/>
<circle cx="334.5" cy="242" r="5" fill="#22a34c" stroke="#145c28" stroke-width="0.5"/>
<circle cx="328" cy="245" r="4.7" fill="#22a34c" stroke="#145c28" stroke-width="0.5"/>
<circle cx="340.5" cy="244.5" r="4.7" fill="#22a34c" stroke="#145c28" stroke-width="0.5"/>
<circle cx="334.2" cy="251.7" r="4.1" fill="#ec1216" stroke="#8a1010" stroke-width="0.5"/>
<line x1="339" y1="251.5" x2="364.5" y2="251.5" stroke="#e0141c" stroke-width="1.6" stroke-dasharray="4,2"/>
<path d="M364.00,252.20 C382.97,245.72 382.41,215.60 415.00,215.60 L415.30,215.60 L415.30,286.90 L415.00,286.90 C382.41,286.90 382.97,258.34 364.00,252.20Z" fill="#fc0d0d"/>
<path d="M389.20,250.60 C395.02,245.24 405.97,232.80 415.00,232.80 L415.30,232.80 L415.30,268.00 L415.00,268.00 C405.97,268.00 395.02,255.84 389.20,250.60Z" fill="#86cc46"/>
<g clip-path="url(#c3)">
<text x="386.9" y="229.3" font-size="5.0" font-weight="bold" font-style="italic" fill="#fff" stroke="#fff" stroke-width="0.28" textLength="33.1" lengthAdjust="spacingAndGlyphs">CEBPA,SMC3</text>
<text x="388.1" y="236.4" font-size="5.0" font-weight="bold" font-style="italic" fill="#fff" stroke="#fff" stroke-width="0.28" textLength="29.4" lengthAdjust="spacingAndGlyphs">TET2, EZH2,</text>
<text x="387.4" y="242.6" font-size="5.0" font-weight="bold" fill="#fff" stroke="#fff" stroke-width="0.28" textLength="17.6" lengthAdjust="spacingAndGlyphs">7q loss</text>
<text x="401.1" y="248.9" font-size="5.0" font-weight="bold" fill="#fff" stroke="#fff" stroke-width="0.28" textLength="9.9" lengthAdjust="spacingAndGlyphs">58%</text>
<text x="399.9" y="255.3" font-size="5.0" font-weight="bold" font-style="italic" fill="#fff" stroke="#fff" stroke-width="0.28" textLength="17.1" lengthAdjust="spacingAndGlyphs">GATA2</text>
<text x="399.9" y="261.9" font-size="5.0" font-weight="bold" font-style="italic" fill="#fff" stroke="#fff" stroke-width="0.28" textLength="17.1" lengthAdjust="spacingAndGlyphs">CSF3R</text>
</g>
<circle cx="241.3" cy="337.7" r="5.2" fill="#8fb2de" stroke="#2a3e6e" stroke-width="0.6"/>
<path d="M250.10,337.30 C272.57,318.84 271.38,301.80 303.85,301.80 C336.32,301.80 335.13,318.84 357.60,337.30 C335.13,355.34 336.32,372.00 303.85,372.00 C271.38,372.00 272.57,355.34 250.10,337.30Z" fill="#8db3e2"/>
<path d="M268.80,337.20 C287.30,320.54 287.30,312.70 303.70,312.70 C320.10,312.70 320.10,320.54 338.60,337.20 C320.10,352.30 320.10,359.40 303.70,359.40 C287.30,359.40 287.30,352.30 268.80,337.20Z" fill="#142a70"/>
<path d="M280.50,337.40 C291.97,329.54 290.99,322.20 304.40,322.20 C317.81,322.20 316.83,329.54 328.30,337.40 C316.83,345.05 317.81,352.20 304.40,352.20 C290.99,352.20 291.97,345.05 280.50,337.40Z" fill="#cc5150"/>
<path d="M291.20,337.40 C295.31,329.21 301.36,329.30 303.90,329.30 C306.44,329.30 312.49,329.21 316.60,337.40 C312.49,345.39 306.44,345.30 303.90,345.30 C301.36,345.30 295.31,345.39 291.20,337.40Z" fill="#ffc305"/>
<text x="288.7" y="319.8" font-size="5.0" font-weight="bold" fill="#fff" stroke="#fff" stroke-width="0.28" textLength="26.3" lengthAdjust="spacingAndGlyphs">68%, <tspan font-style="italic">CEBPA</tspan></text>
<text x="292.0" y="328.2" font-size="5.0" font-weight="bold" fill="#fff" stroke="#fff" stroke-width="0.28" textLength="9.2" lengthAdjust="spacingAndGlyphs">47%</text>
<text x="295.8" y="339.3" font-size="4.8" font-weight="bold" fill="#fff" stroke="#fff" stroke-width="0.25" textLength="8.0" lengthAdjust="spacingAndGlyphs">33%</text>
<text x="283.7" y="366.5" font-size="5.0" font-weight="bold" fill="#fff" stroke="#fff" stroke-width="0.28" textLength="39.2" lengthAdjust="spacingAndGlyphs">13q aUPD, <tspan font-style="italic">DHX37</tspan></text>
</svg>
</body></html>
